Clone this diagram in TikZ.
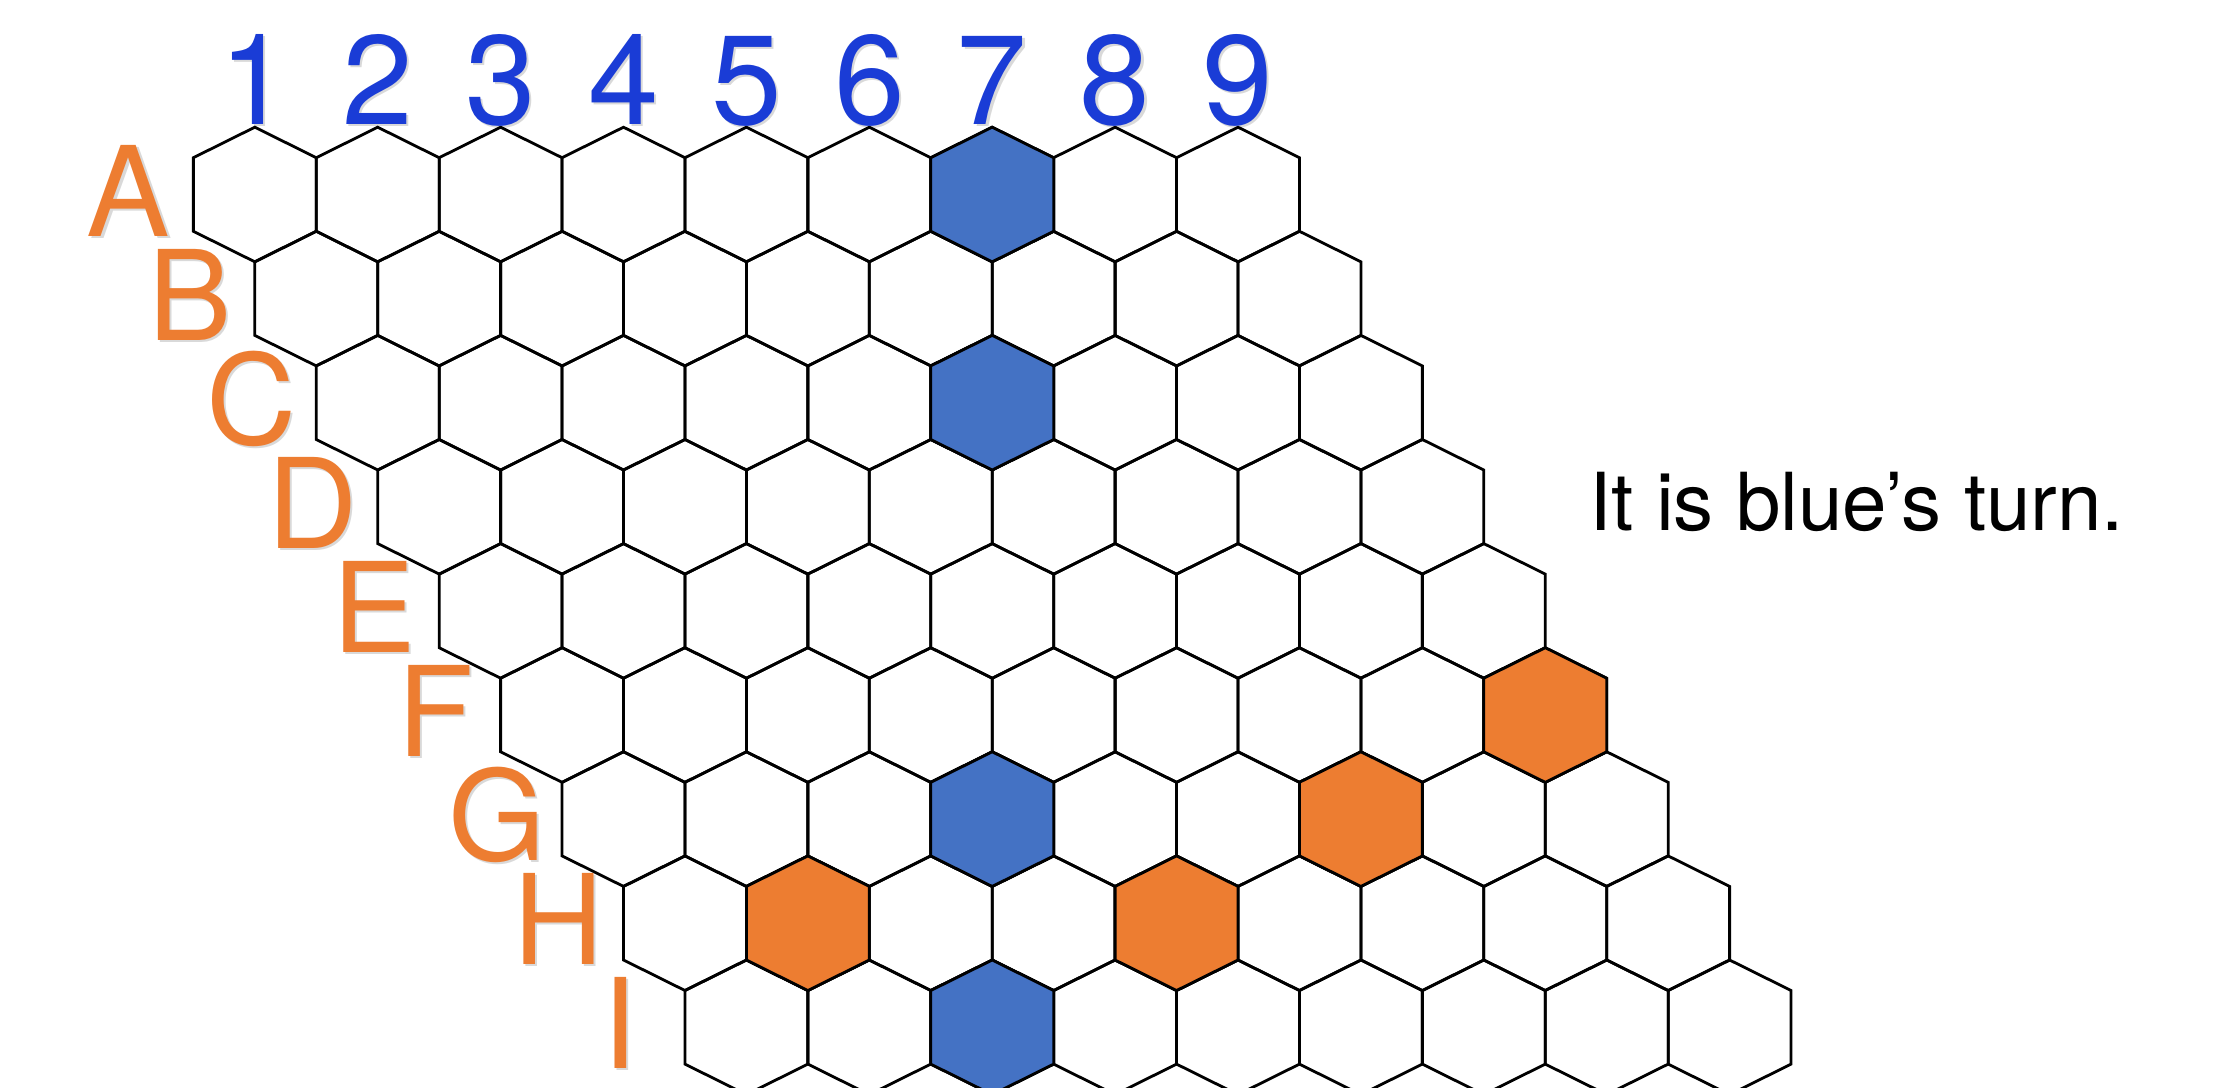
\documentclass[tikz,border=0pt]{standalone}
\usepackage{fontspec}
\setmainfont{TeX Gyre Heros}
\definecolor{hexblue}{HTML}{4472C4}
\definecolor{hexorange}{HTML}{ED7D31}
\definecolor{numblue}{HTML}{1A3CD6}
\newcommand\hexat[3]{%
  \path[#3] ({254.8+#1*61.45+#2*122.9},{194.5+#1*104.1}) ++(0,-67.3)
    -- ++(61.45,30.5) -- ++(0,73.6) -- ++(-61.45,30.5)
    -- ++(-61.45,-30.5) -- ++(0,-73.6) -- cycle;}
\begin{document}
\begin{tikzpicture}[x=0.5pt,y=-0.5pt,
  hexline/.style={draw=black,line width=1.4pt,line join=miter},
  bluestone/.style={hexline,fill=hexblue},
  orangestone/.style={hexline,fill=hexorange},
  collabel/.style={anchor=base,inner sep=0pt,text=numblue,font=\fontsize{63.5pt}{70pt}\selectfont},
  rowlabel/.style={anchor=base,inner sep=0pt,text=hexorange,font=\fontsize{62.5pt}{70pt}\selectfont},
  shadowlabel/.style={text=black,opacity=0.15},
  note/.style={anchor=base west,inner sep=0pt,font=\fontsize{40pt}{48pt}\selectfont}]
\useasboundingbox[fill=white] (0,0) rectangle (2222,1087);
% board
\foreach \r in {0,...,8}{\foreach \c in {0,...,8}{\hexat{\r}{\c}{hexline}}}
% stones
\hexat{0}{6}{bluestone}
\hexat{2}{5}{bluestone}
\hexat{6}{3}{bluestone}
\hexat{8}{2}{bluestone}
\hexat{5}{8}{orangestone}
\hexat{6}{6}{orangestone}
\hexat{7}{1}{orangestone}
\hexat{7}{4}{orangestone}
% column labels (with soft shadow)
\foreach \n [count=\i from 0] in {1,2,3,4,5,6,7,8,9}{
  \node[collabel,shadowlabel] (cs\n) at ({257+\i*122.9},126) {\n};
  \node[collabel] (c\n) at ({254.8+\i*122.9},124) {\n};
}
% row labels (with soft shadow)
\foreach \L [count=\i from 0] in {A,B,C,D,E,F,G,H,I}{
  \node[rowlabel,shadowlabel] (rs\L) at ({130.7+\i*61.45},{238+\i*104.1}) {\L};
  \node[rowlabel] (r\L) at ({128.5+\i*61.45},{236+\i*104.1}) {\L};
}
% note
\node[note] (turn) at (1589,530) {It is blue’s turn.};
\end{tikzpicture}
\end{document}
